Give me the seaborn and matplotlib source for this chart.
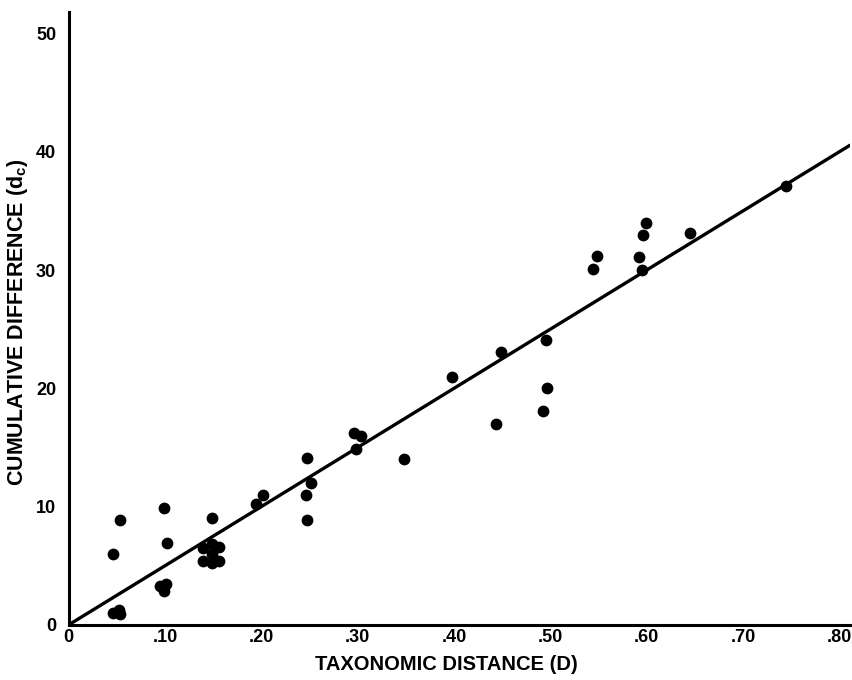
import matplotlib
matplotlib.use("Agg")
import matplotlib.pyplot as plt
import seaborn as sns
import numpy as np
import pandas as pd

# Data
taxonomic_distance = [
    0.046, 0.052, 0.053, 0.046, 0.053,
    0.099, 0.102, 0.095, 0.101, 0.099,
    0.149, 0.140, 0.149, 0.156, 0.140, 0.149, 0.156, 0.149,
    0.195, 0.202, 0.248, 0.252, 0.246, 0.247,
    0.296, 0.304, 0.298, 0.348, 0.398, 0.444, 0.449,
    0.496, 0.497, 0.492, 0.544, 0.549, 0.592, 0.595, 0.596, 0.599,
    0.645, 0.745,
]
cumulative_difference = [
    1.0, 1.3, 0.9, 6.0, 8.9,
    9.9, 6.9, 3.3, 3.5, 2.9,
    9.0, 6.5, 6.8, 6.6, 5.4, 5.2, 5.4, 6.0,
    10.2, 11.0, 14.1, 12.0, 11.0, 8.9,
    16.2, 16.0, 14.9, 14.0, 21.0, 17.0, 23.1,
    24.1, 20.0, 18.1, 30.1, 31.2, 31.1, 30.0, 33.0, 34.0,
    33.1, 37.1,
]
fit_slope = 50.0  # dc = 50 * D

x_ticks = [0, 0.1, 0.2, 0.3, 0.4, 0.5, 0.6, 0.7, 0.8]
x_tick_labels = ["0", ".10", ".20", ".30", ".40", ".50", ".60", ".70", ".80"]
y_ticks = [0, 10, 20, 30, 40, 50]
y_tick_labels = ["0", "10", "20", "30", "40", "50"]

sns.set_theme(style="white")
plt.rcParams['font.family'] = ['Liberation Sans', 'DejaVu Sans']
plt.rcParams['mathtext.fontset'] = 'custom'
plt.rcParams['mathtext.bf'] = 'Liberation Sans:bold'
plt.rcParams['mathtext.rm'] = 'Liberation Sans:bold'
plt.rcParams['mathtext.default'] = 'bf'
plt.rcParams['text.color'] = 'black'
plt.rcParams['axes.labelcolor'] = 'black'

fig = plt.figure(figsize=(8.52, 6.8), dpi=100)
ax = fig.add_axes([0.0805, 0.081, 0.917, 0.901])

xmax, ymax = 0.811, 51.8
df = pd.DataFrame({"D": taxonomic_distance, "dc": cumulative_difference})
line_df = pd.DataFrame({"D": [0, xmax]})
line_df["dc"] = fit_slope * line_df["D"]

sns.lineplot(data=line_df, x="D", y="dc", color="black", linewidth=2.4, ax=ax)
sns.scatterplot(data=df, x="D", y="dc", color="black", s=72, linewidth=0, ax=ax, zorder=3)

ax.set_xlim(0, xmax)
ax.set_ylim(0, ymax)
ax.set_xticks(x_ticks)
ax.set_xticklabels(x_tick_labels)
ax.set_yticks(y_ticks)
ax.set_yticklabels(y_tick_labels)

for side in ["top", "right"]:
    ax.spines[side].set_visible(False)
for side in ["left", "bottom"]:
    ax.spines[side].set_linewidth(2.2)
    ax.spines[side].set_color("black")

ax.tick_params(axis="both", direction="in", length=8, width=2, colors="black",
               labelsize=13, pad=3)
ax.tick_params(axis="y", pad=9)
for lab in ax.get_xticklabels() + ax.get_yticklabels():
    lab.set_fontweight("bold")

ax.set_xlabel("TAXONOMIC DISTANCE (D)", fontsize=14.5, fontweight="bold", color="black")
ax.set_ylabel("CUMULATIVE DIFFERENCE (d$_{c}$)", fontsize=15.5, fontweight="bold", color="black")
ax.xaxis.set_label_coords(0.483, -0.049)
ax.yaxis.set_label_coords(-0.050, 0.494)

fig.savefig("out.png", dpi=100)
